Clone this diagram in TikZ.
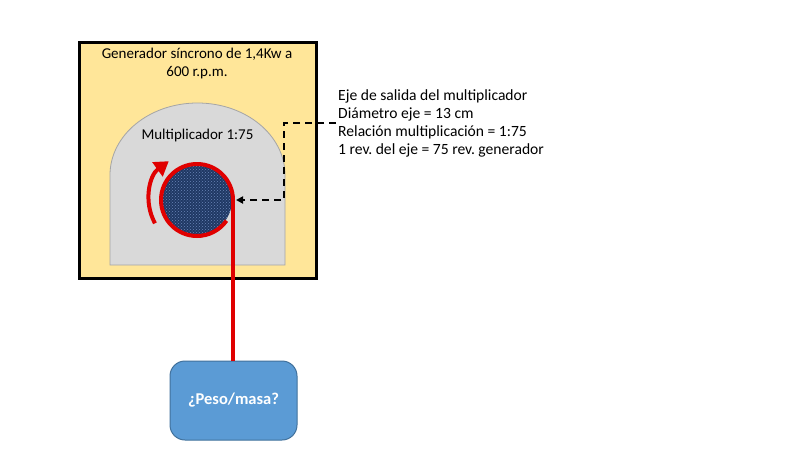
\documentclass[tikz,border=0pt]{standalone}
\usepackage{fontspec}
\setmainfont{Carlito}
\usetikzlibrary{arrows.meta,patterns}
\definecolor{genfill}{HTML}{FFE699}
\definecolor{multfill}{HTML}{D9D9D9}
\definecolor{multline}{HTML}{A5A5A5}
\definecolor{shaftdark}{HTML}{1F3864}
\definecolor{shaftdot}{HTML}{6A86B8}
\definecolor{ropered}{HTML}{E00000}
\definecolor{boxfill}{HTML}{5B9BD5}
\definecolor{boxline}{HTML}{41719C}
\frenchspacing
\tikzset{
  txt/.style={inner sep=0pt, font=\fontsize{15pt}{18pt}\selectfont},
  infotxt/.style={inner sep=0pt, font=\fontsize{15.6pt}{18pt}\selectfont},
  rope/.style={draw=ropered, line width=4pt},
  leader/.style={draw=black, line width=2pt, dash pattern=on 7pt off 5pt},
  massbox/.style={draw=boxline, line width=1pt, fill=boxfill, rounded corners=15pt,
    minimum width=127pt, minimum height=79pt, text=white,
    font=\fontsize{16.5pt}{18pt}\selectfont\bfseries}
}
\begin{document}
\begin{tikzpicture}[x=1pt,y=-1pt]
\useasboundingbox (0,0) rectangle (800,450);
\fill[white] (0,0) rectangle (800,450);
% generator box
\node[draw=black, line width=3pt, fill=genfill, minimum width=237pt, minimum height=236pt,
  inner sep=0pt, anchor=north west] (gen) at (78,41) {};
\node[txt, anchor=base] (gen1) at (197,58.7) {Generador síncrono de 1,4Kw a};
\node[txt, anchor=base] (gen2) at (197,76.5) {600 r.p.m.};
% multiplier (arch shape)
\draw[draw=multline, line width=0.8pt, fill=multfill]
  (110,265) -- (110,175) arc[start angle=180, end angle=0, x radius=87.5pt, y radius=72pt]
  -- (285,265) -- cycle;
\node[txt, anchor=base] (mult) at (197.5,139.3) {Multiplicador 1:75};
% shaft
\coordinate (c) at (197,200);
\fill[shaftdark] (c) circle[radius=35pt];
\fill[pattern=crosshatch dots, pattern color=shaftdot] (c) circle[radius=35pt];
\coordinate (tan) at (233,200);
\draw[rope] (tan) arc[start angle=0, end angle=325, radius=36pt];
% rotation arrow
\coordinate (rot0) at (155,223.3);
\draw[rope, -{Triangle[length=14pt,width=17pt]}] (rot0) arc[start angle=209, end angle=126, radius=48pt];
% mass box and rope
\node[massbox] (peso) at (233.5,400.5) {¿Peso/masa?};
\draw[rope] (tan) -- (tan |- peso.north);
% info text
\node[infotxt, anchor=base west] (info1) at (338,100) {Eje de salida del multiplicador};
\node[infotxt, anchor=base west] (info2) at (338,118) {Diámetro eje = 13 cm};
\node[infotxt, anchor=base west] (info3) at (338,136) {Relación multiplicación = 1:75};
\node[infotxt, anchor=base west] (info4) at (338,154) {1 rev. del eje = 75 rev. generador};
% leader line
\coordinate (d0) at (336,123);
\coordinate (d1) at (284,123);
\coordinate (d2) at (284,200);
\draw[leader, -{Triangle[length=7pt,width=7pt]}, shorten >=3pt] (d0) -- (d1) -- (d2) -- (tan);
\end{tikzpicture}
\end{document}
